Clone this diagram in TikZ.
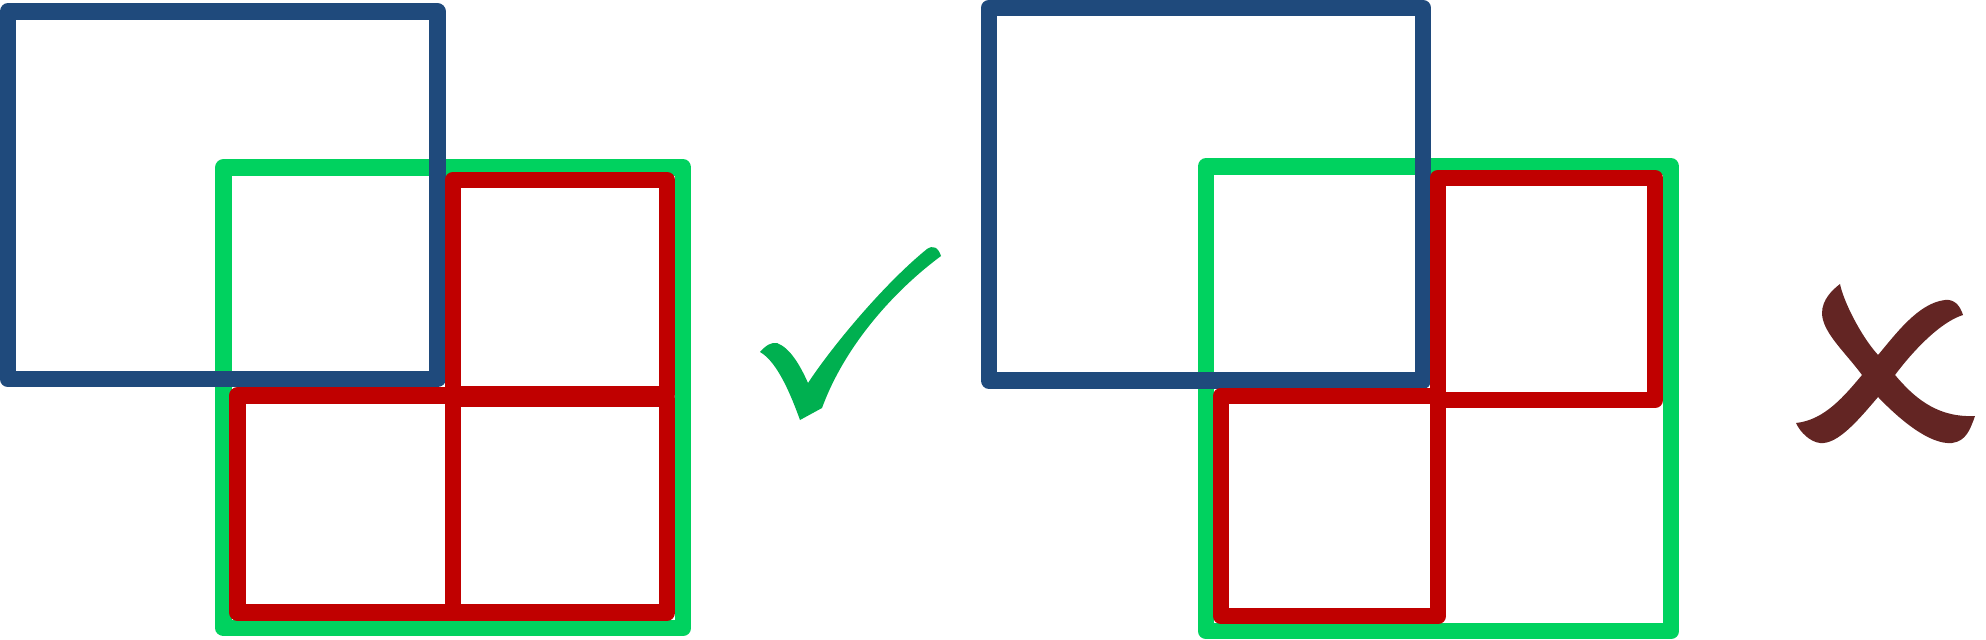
\documentclass[tikz,border=0pt]{standalone}
\definecolor{boxblue}{HTML}{1F4A7C}
\definecolor{boxgreen}{HTML}{00D25F}
\definecolor{boxred}{HTML}{C00000}
\definecolor{okgreen}{HTML}{00B050}
\definecolor{badred}{HTML}{632523}
\tikzset{
  frame/.style={line width=0.165cm, line join=round},
  bluebox/.style={frame, draw=boxblue},
  greenbox/.style={frame, draw=boxgreen},
  redbox/.style={frame, draw=boxred},
}
\begin{document}
\begin{tikzpicture}[x=0.01cm, y=-0.01cm]
\useasboundingbox (0,0) rectangle (1986,640);
% ---------- left picture ----------
\draw[greenbox] (223.5,167.3) rectangle (683,628);
\draw[bluebox] (8,11.4) rectangle (437.5,379);
\draw[redbox] (453,180) rectangle (667,394);
\draw[redbox] (453,399) rectangle (667,612.7);
\draw[redbox] (237.7,395.3) rectangle (453,612.7);
% check mark
\fill[okgreen] (760,352)
  .. controls (766,345) and (772,342) .. (777,343)
  .. controls (790,348) and (800,365) .. (808,383)
  .. controls (833,345) and (885,283) .. (927,249)
  .. controls (933,245) and (938,247) .. (941,256)
  .. controls (895,290) and (845,345) .. (822,408)
  -- (800,420)
  .. controls (792,398) and (778,362) .. (760,352) -- cycle;
% ---------- right picture ----------
\draw[greenbox] (1206,166.3) rectangle (1671,631);
\draw[bluebox] (988.8,8) rectangle (1423,380.4);
\draw[redbox] (1438,178) rectangle (1655,400);
\draw[redbox] (1221,396) rectangle (1438,616);
% cross mark
\fill[badred] (1840,284)
  .. controls (1843,300) and (1860,335) .. (1878,355)
  .. controls (1895,335) and (1918,303) .. (1945,300)
  .. controls (1955,299) and (1960,306) .. (1963,315)
  .. controls (1940,322) and (1912,352) .. (1895,375)
  .. controls (1912,395) and (1935,418) .. (1975,416)
  .. controls (1970,430) and (1966,441) .. (1952,443)
  .. controls (1930,445) and (1900,420) .. (1878,397)
  .. controls (1860,418) and (1838,445) .. (1820,443)
  .. controls (1810,442) and (1800,432) .. (1796,423)
  .. controls (1825,420) and (1845,395) .. (1862,375)
  .. controls (1845,352) and (1822,332) .. (1822,313)
  .. controls (1822,300) and (1832,290) .. (1840,284) -- cycle;
\end{tikzpicture}
\end{document}
